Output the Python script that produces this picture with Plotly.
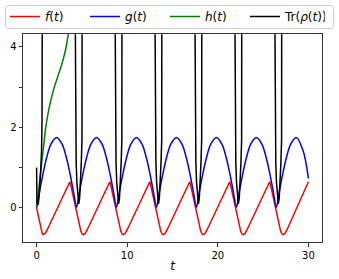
import plotly.graph_objects as go

# ---- data ----
red_t = [0.00, 0.18, 0.36, 0.51, 0.62, 0.73, 0.85, 0.98, 1.18, 3.67,
         3.74, 4.07, 4.47, 4.72, 4.89, 5.02, 5.14, 5.26, 5.39, 5.59, 8.08,
         8.15, 8.48, 8.88, 9.13, 9.30, 9.43, 9.55, 9.67, 9.80, 10.00, 12.49,
         12.56, 12.89, 13.29, 13.54, 13.71, 13.84, 13.96, 14.08, 14.21, 14.41, 16.90,
         16.97, 17.30, 17.70, 17.95, 18.12, 18.25, 18.37, 18.49, 18.62, 18.82, 21.31,
         21.38, 21.71, 22.11, 22.36, 22.53, 22.66, 22.78, 22.90, 23.03, 23.23, 25.72,
         25.79, 26.12, 26.52, 26.77, 26.94, 27.07, 27.19, 27.31, 27.44, 27.64, 30.00]
red_v = [0.00, -0.18, -0.38, -0.55, -0.63, -0.66, -0.65, -0.62, -0.54, 0.65,
         0.60, 0.25, -0.18, -0.45, -0.58, -0.64, -0.66, -0.65, -0.62, -0.54, 0.65,
         0.60, 0.25, -0.18, -0.45, -0.58, -0.64, -0.66, -0.65, -0.62, -0.54, 0.65,
         0.60, 0.25, -0.18, -0.45, -0.58, -0.64, -0.66, -0.65, -0.62, -0.54, 0.65,
         0.60, 0.25, -0.18, -0.45, -0.58, -0.64, -0.66, -0.65, -0.62, -0.54, 0.65,
         0.60, 0.25, -0.18, -0.45, -0.58, -0.64, -0.66, -0.65, -0.62, -0.54, 0.65,
         0.60, 0.25, -0.18, -0.45, -0.58, -0.64, -0.66, -0.65, -0.62, -0.54, 0.65]

blue_t = [0.00, 0.30, 0.70, 1.10, 1.60, 2.20, 2.80, 3.30, 3.70, 4.10,
          4.41, 4.71, 5.11, 5.51, 6.01, 6.61, 7.21, 7.71, 8.11, 8.51,
          8.82, 9.12, 9.52, 9.92, 10.42, 11.02, 11.62, 12.12, 12.52, 12.92,
          13.23, 13.53, 13.93, 14.33, 14.83, 15.43, 16.03, 16.53, 16.93, 17.33,
          17.64, 17.94, 18.34, 18.74, 19.24, 19.84, 20.44, 20.94, 21.34, 21.74,
          22.05, 22.35, 22.75, 23.15, 23.65, 24.25, 24.85, 25.35, 25.75, 26.15,
          26.46, 26.76, 27.16, 27.56, 28.06, 28.66, 29.40, 30.00]
blue_v = [0.00, 0.37, 0.84, 1.24, 1.59, 1.75, 1.59, 1.24, 0.84, 0.37,
          0.02, 0.37, 0.84, 1.24, 1.59, 1.75, 1.59, 1.24, 0.84, 0.37,
          0.02, 0.37, 0.84, 1.24, 1.59, 1.75, 1.59, 1.24, 0.84, 0.37,
          0.02, 0.37, 0.84, 1.24, 1.59, 1.75, 1.59, 1.24, 0.84, 0.37,
          0.02, 0.37, 0.84, 1.24, 1.59, 1.75, 1.59, 1.24, 0.84, 0.37,
          0.02, 0.37, 0.84, 1.24, 1.59, 1.75, 1.59, 1.24, 0.84, 0.37,
          0.02, 0.37, 0.84, 1.24, 1.59, 1.75, 1.43, 0.73]

# h(t) leaves the visible range at the top (4.31)
green_t = [0.00, 0.25, 0.50, 0.75, 1.00, 1.25, 1.50, 1.75, 2.00, 2.25,
           2.50, 2.75, 3.00, 3.25, 3.50]
green_v = [0.00, 0.50, 1.00, 1.48, 1.98, 2.33, 2.60, 2.83, 3.03, 3.20,
           3.37, 3.54, 3.74, 3.98, 4.31]

# Tr(rho(t)): visible dips only; None marks where it is off the top of the chart
black_t = [0.00, 0.04, 0.18, 0.30, 0.45, 0.55, 0.60, 0.62, None,
           4.28, 4.29, 4.37, 4.45, 4.55, 4.65, 4.75, 4.85, 4.93, 5.01, 5.02, None,
           8.68, 8.69, 8.77, 8.85, 8.95, 9.05, 9.15, 9.25, 9.33, 9.41, 9.42, None,
           13.08, 13.09, 13.17, 13.25, 13.35, 13.45, 13.55, 13.65, 13.73, 13.81, 13.82, None,
           17.49, 17.50, 17.58, 17.66, 17.76, 17.86, 17.96, 18.06, 18.14, 18.22, 18.23, None,
           21.90, 21.91, 21.99, 22.07, 22.17, 22.27, 22.37, 22.47, 22.55, 22.63, 22.64, None,
           26.31, 26.32, 26.40, 26.48, 26.58, 26.68, 26.78, 26.88, 26.96, 27.04, 27.05]
black_v = [1.00, 0.12, 0.08, 0.35, 0.90, 1.43, 2.20, 4.31, None,
           4.31, 1.68, 1.10, 0.62, 0.25, 0.10, 0.25, 0.62, 1.10, 1.68, 4.31, None,
           4.31, 1.68, 1.10, 0.62, 0.25, 0.10, 0.25, 0.62, 1.10, 1.68, 4.31, None,
           4.31, 1.68, 1.10, 0.62, 0.25, 0.10, 0.25, 0.62, 1.10, 1.68, 4.31, None,
           4.31, 1.68, 1.10, 0.62, 0.25, 0.10, 0.25, 0.62, 1.10, 1.68, 4.31, None,
           4.31, 1.68, 1.10, 0.62, 0.25, 0.10, 0.25, 0.62, 1.10, 1.68, 4.31, None,
           4.31, 1.68, 1.10, 0.62, 0.25, 0.10, 0.25, 0.62, 1.10, 1.68, 4.31]

x_ticks = [0, 10, 20, 30]
y_ticks = [0, 1, 2, 3, 4]
y_ticktext = ["0", "", "2", "", "4"]

names = ["<i>f</i>(<i>t</i>)", "<i>g</i>(<i>t</i>)", "<i>h</i>(<i>t</i>)", "Tr(<i>ρ</i>(<i>t</i>))"]

W, H = 339, 279
ML, MR, MT, MB = 23, 17, 34, 37
PW, PH = W - ML - MR, H - MT - MB


def px_x(p):
    return (p - ML) / PW


def px_y(p):
    return 1 - (p - MT) / PH


fig = go.Figure()
fig.add_trace(go.Scatter(x=red_t, y=red_v, mode="lines", name=names[0],
                         line=dict(color="#ff0000", width=1.5)))
fig.add_trace(go.Scatter(x=blue_t, y=blue_v, mode="lines", name=names[1],
                         line=dict(color="#0000ff", width=1.5, shape="spline", smoothing=1.0)))
fig.add_trace(go.Scatter(x=green_t, y=green_v, mode="lines", name=names[2],
                         line=dict(color="#008000", width=1.5, shape="spline", smoothing=0.8)))
fig.add_trace(go.Scatter(x=black_t, y=black_v, mode="lines", name=names[3],
                         connectgaps=False, line=dict(color="#000000", width=1.5)))

axis_common = dict(showline=True, linecolor="#333333", linewidth=1, mirror=True,
                   ticks="outside", ticklen=3.5, tickwidth=1, tickcolor="#333333",
                   showgrid=False, zeroline=False,
                   tickfont=dict(family="DejaVu Sans", size=10, color="#000000"))

# rounded legend frame (pixel box 5..333 x 5..28)
x0, x1, y0, y1, r = 5.5, 333.5, 5.5, 28.5, 3
frame_path = (
    f"M {px_x(x0 + r)},{px_y(y0)} L {px_x(x1 - r)},{px_y(y0)} "
    f"Q {px_x(x1)},{px_y(y0)} {px_x(x1)},{px_y(y0 + r)} "
    f"L {px_x(x1)},{px_y(y1 - r)} Q {px_x(x1)},{px_y(y1)} {px_x(x1 - r)},{px_y(y1)} "
    f"L {px_x(x0 + r)},{px_y(y1)} Q {px_x(x0)},{px_y(y1)} {px_x(x0)},{px_y(y1 - r)} "
    f"L {px_x(x0)},{px_y(y0 + r)} Q {px_x(x0)},{px_y(y0)} {px_x(x0 + r)},{px_y(y0)} Z"
)

fig.update_layout(
    width=W, height=H,
    margin=dict(l=ML, r=MR, t=MT, b=MB, autoexpand=False),
    plot_bgcolor="white", paper_bgcolor="white",
    font=dict(family="DejaVu Sans", size=10, color="#000000"),
    showlegend=True,
    legend=dict(orientation="h", xref="paper", yref="paper",
                x=px_x(5), y=px_y(2), xanchor="left", yanchor="top",
                borderwidth=0, bgcolor="rgba(0,0,0,0)",
                font=dict(family="DejaVu Sans", size=12, color="#000000"),
                itemwidth=30, entrywidth=35, tracegroupgap=0),
    shapes=[dict(type="path", xref="paper", yref="paper", path=frame_path,
                 line=dict(color="#cccccc", width=1), fillcolor="white", layer="above")],
    xaxis=dict(range=[-1.5, 31.5], tickvals=x_ticks,
               title=dict(text="<i>t</i>", font=dict(family="DejaVu Sans", size=12), standoff=2),
               **axis_common),
    yaxis=dict(range=[-0.845, 4.315], tickvals=y_ticks, ticktext=y_ticktext,
               **axis_common),
)

fig.write_html("out.html", config={"displayModeBar": False},
               post_script="document.body.style.margin='0px';")
